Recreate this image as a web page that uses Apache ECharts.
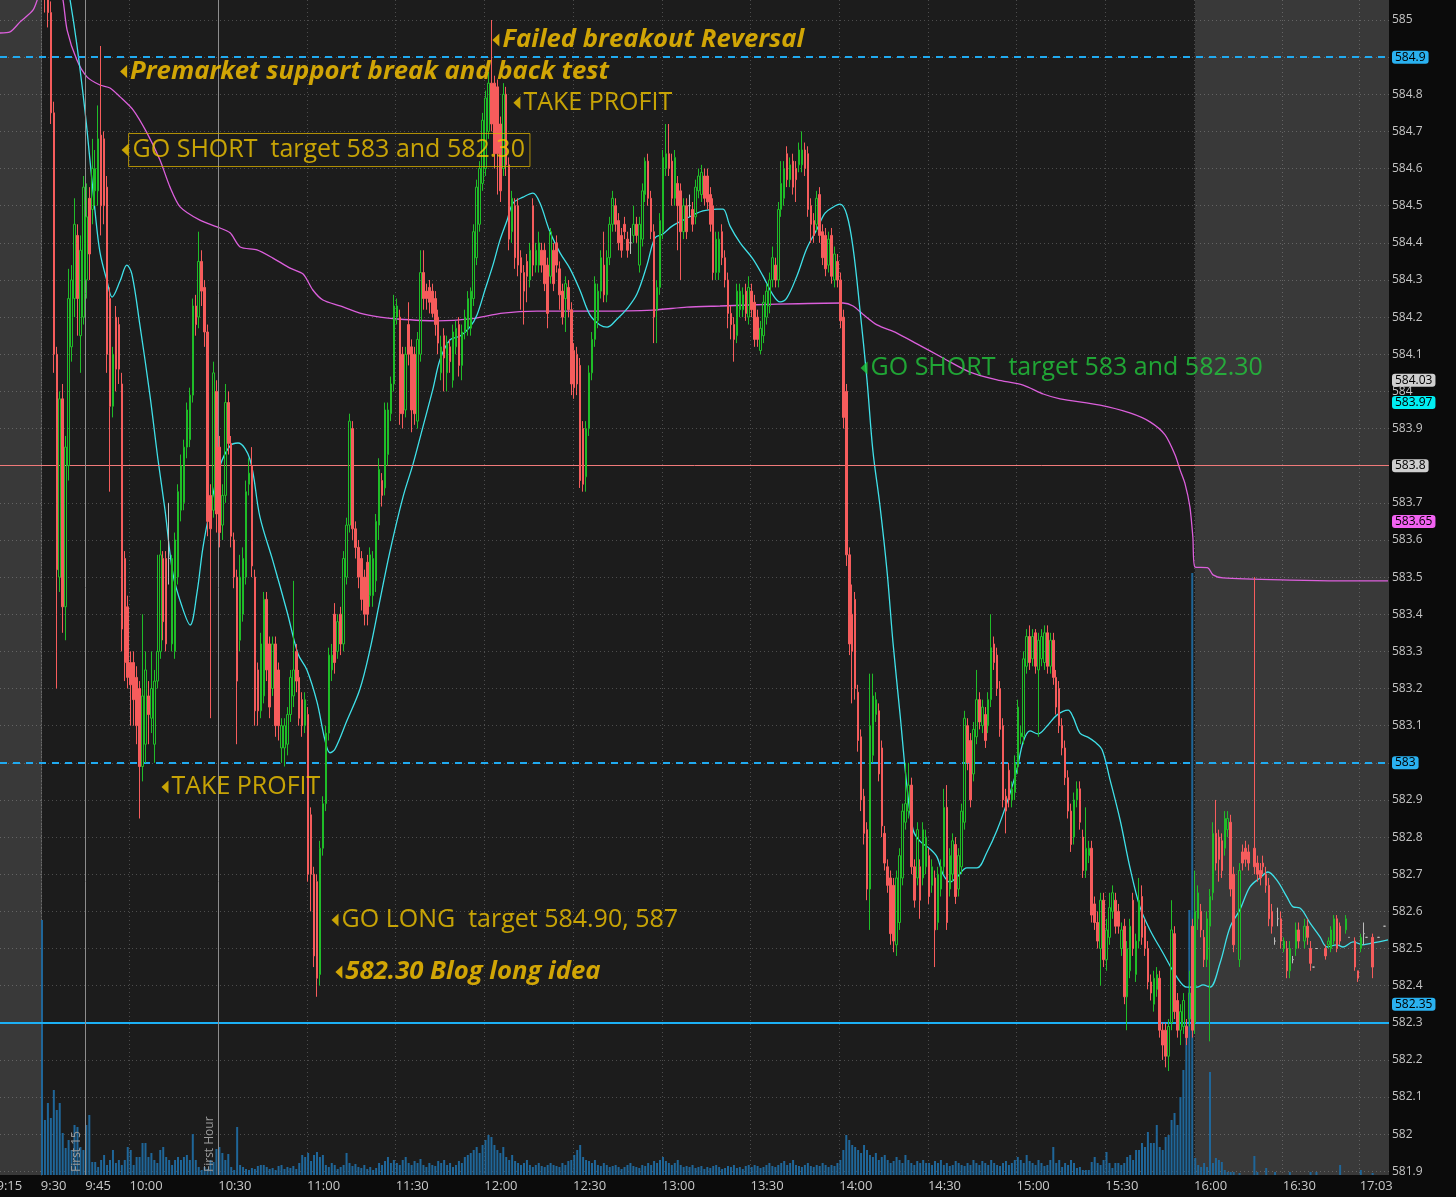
<!DOCTYPE html>
<html><head><meta charset="utf-8">
<script src="https://cdn.jsdelivr.net/npm/echarts@6/dist/echarts.min.js"></script>
<style>html,body{margin:0;padding:0;background:#0b0b0b;}#chart{width:1456px;height:1197px;}</style>
</head><body><div id="chart"></div>
<script>
// ---------- axis ticks ----------
const tickMinutes = [-15, 0, 15, 30, 60, 90, 120, 150, 180, 210, 240, 270, 300, 330, 360, 390, 420, 446];
const tickLabels = ['9:15','9:30','9:45','10:00','10:30','11:00','11:30','12:00','12:30','13:00','13:30','14:00','14:30','15:00','15:30','16:00','16:30','17:03'];
const priceTicks = [581.9,582.0,582.1,582.2,582.3,582.4,582.5,582.6,582.7,582.8,582.9,583.0,583.1,583.2,583.3,583.4,583.5,583.6,583.7,583.8,583.9,584.0,584.1,584.2,584.3,584.4,584.5,584.6,584.7,584.8,584.9,585.0];

// ---------- 1-minute candles, regular session [open, close, low, high] ----------
const c0930 = [[585.35,585.15,585.10,585.40],[585.15,585.06,585.02,585.20],[585.06,585.02,584.98,585.10],[585.02,584.75,584.72,585.05],[584.75,584.10,584.05,584.78],[584.10,583.52,583.20,584.12],[583.50,583.98,583.46,584.00],[583.98,583.42,583.35,584.02],[583.42,583.85,583.33,583.88],[583.80,584.25,583.76,584.33],[584.12,584.30,584.08,584.34],[584.25,584.45,584.20,584.52],[584.42,584.25,584.15,584.45],[584.15,584.38,584.05,584.42],[584.20,584.55,584.18,584.58],[584.30,584.47,584.25,584.56],[584.52,584.37,584.30,584.55],[584.49,584.60,584.45,584.68],[584.54,584.60,584.50,584.65],[584.54,584.68,584.50,584.77],[584.69,584.50,584.42,584.93],[584.68,584.50,584.45,584.70],[584.55,584.10,584.05,584.58],[584.25,583.96,583.73,584.28],[583.96,584.10,583.93,584.12],[584.20,584.06,584.00,584.23],[584.18,584.06,584.02,584.20],[584.02,583.36,583.30,584.05],[583.55,583.27,583.22,583.57],[583.42,583.23,583.20,583.45]];
const c1000 = [[583.27,583.21,583.10,583.30],[583.27,583.17,583.10,583.30],[583.23,583.10,583.05,583.26],[583.20,582.99,582.85,583.22],[582.99,583.18,582.95,583.40],[583.05,583.25,583.00,583.30],[583.18,583.13,583.05,583.22],[583.12,583.20,583.08,583.30],[583.05,583.22,583.00,583.25],[583.22,583.30,583.20,583.56],[583.30,583.56,583.28,583.60],[583.55,583.38,583.33,583.57],[583.55,583.32,583.30,583.57],[583.55,583.55,583.48,583.70],[583.32,583.55,583.30,583.56],[583.30,583.60,583.28,583.62],[583.50,583.73,583.48,583.75],[583.68,583.80,583.65,583.83],[583.70,583.85,583.68,583.87],[583.85,583.95,583.82,583.97],[583.87,583.99,583.85,584.01],[583.99,584.23,583.97,584.25],[584.23,584.18,584.15,584.26],[584.20,584.35,584.17,584.43],[584.35,584.27,584.23,584.38],[584.28,584.16,584.12,584.30],[584.16,583.65,583.61,584.18],[583.72,583.63,583.12,583.75],[583.68,584.05,583.66,584.08],[584.00,583.67,583.62,584.03]];
const c1030 = [[583.85,583.62,583.58,583.88],[583.64,583.72,583.60,583.75],[583.72,583.97,583.70,584.02],[583.97,583.86,583.83,584.00],[583.86,583.61,583.58,583.88],[583.60,583.50,583.47,583.62],[583.50,583.22,583.05,583.52],[583.33,583.50,583.30,583.56],[583.40,583.55,583.38,583.58],[583.50,583.73,583.48,583.76],[583.75,583.78,583.72,583.82],[583.80,583.53,583.50,583.85],[583.50,583.14,583.10,583.52],[583.25,583.14,583.10,583.27],[583.14,583.32,583.12,583.35],[583.18,583.44,583.16,583.46],[583.44,583.25,583.22,583.46],[583.32,583.15,583.12,583.34],[583.20,583.32,583.18,583.34],[583.32,583.10,583.07,583.34],[583.25,583.10,583.06,583.27],[583.04,583.10,583.00,583.12],[583.04,583.10,582.99,583.12],[583.05,583.13,583.02,583.15],[583.13,583.23,583.11,583.25],[583.18,583.25,583.15,583.49],[583.30,583.22,583.19,583.32],[583.23,583.12,583.10,583.25],[583.17,583.10,583.07,583.19],[583.10,583.17,583.08,583.19]];
const c1100 = [[583.13,582.70,582.68,583.15],[582.86,582.70,582.60,582.88],[582.70,582.48,582.45,582.72],[582.68,582.42,582.37,582.70],[582.43,582.77,582.40,582.79],[582.77,582.89,582.75,582.91],[582.89,583.08,582.87,583.10],[583.08,583.29,583.06,583.31],[583.25,583.29,583.22,583.32],[583.40,583.27,583.24,583.43],[583.30,583.38,583.28,583.40],[583.40,583.32,583.29,583.42],[583.32,583.55,583.30,583.57],[583.50,583.64,583.48,583.66],[583.64,583.92,583.62,583.94],[583.90,583.63,583.60,583.92],[583.63,583.58,583.55,583.65],[583.58,583.50,583.47,583.60],[583.55,583.44,583.41,583.57],[583.50,583.40,583.37,583.52],[583.54,583.40,583.37,583.56],[583.45,583.56,583.42,583.58],[583.45,583.55,583.42,583.57],[583.49,583.65,583.46,583.67],[583.64,583.79,583.60,583.82],[583.76,583.72,583.69,583.78],[583.74,583.95,583.72,583.97],[583.83,583.95,583.80,583.97],[583.94,584.02,583.92,584.04],[584.02,584.23,584.00,584.26]];
const c1130 = [[584.20,584.23,584.18,584.25],[584.20,583.94,583.91,584.22],[584.10,583.94,583.90,584.12],[583.95,584.10,583.93,584.12],[584.18,584.10,584.07,584.24],[584.12,583.95,583.89,584.14],[584.10,583.94,583.91,584.12],[583.92,584.14,583.90,584.16],[584.10,584.32,584.08,584.38],[584.32,584.25,584.22,584.38],[584.27,584.25,584.22,584.29],[584.28,584.24,584.21,584.30],[584.27,584.21,584.20,584.29],[584.25,584.18,584.15,584.27],[584.20,584.13,584.10,584.22],[584.05,584.12,584.03,584.15],[584.15,584.09,584.00,584.17],[584.05,584.13,584.00,584.15],[584.12,584.08,584.05,584.14],[584.03,584.16,584.01,584.18],[584.12,584.17,584.10,584.19],[584.18,584.07,584.04,584.20],[584.07,584.16,584.03,584.18],[584.16,584.20,584.14,584.22],[584.17,584.25,584.15,584.27],[584.17,584.27,584.15,584.28],[584.25,584.43,584.23,584.45],[584.36,584.55,584.34,584.57],[584.45,584.60,584.43,584.62],[584.56,584.73,584.54,584.75]];
const c1200 = [[584.60,584.79,584.58,584.81],[584.70,584.83,584.68,584.86],[584.83,584.72,584.70,585.00],[584.83,584.64,584.60,584.85],[584.82,584.64,584.53,584.84],[584.72,584.54,584.51,584.74],[584.60,584.80,584.58,584.83],[584.80,584.61,584.58,584.82],[584.61,584.41,584.38,584.63],[584.43,584.52,584.40,584.54],[584.50,584.36,584.33,584.52],[584.50,584.34,584.31,584.52],[584.36,584.32,584.22,584.38],[584.32,584.27,584.18,584.34],[584.35,584.31,584.24,584.37],[584.30,584.38,584.28,584.40],[584.50,584.34,584.31,584.52],[584.34,584.38,584.32,584.40],[584.34,584.40,584.32,584.43],[584.38,584.34,584.32,584.40],[584.38,584.29,584.27,584.40],[584.34,584.21,584.17,584.36],[584.31,584.43,584.29,584.44],[584.38,584.29,584.27,584.40],[584.40,584.34,584.32,584.42],[584.33,584.26,584.22,584.35],[584.27,584.20,584.18,584.29],[584.25,584.29,584.16,584.31],[584.28,584.22,584.20,584.30],[584.22,584.02,583.99,584.24]];
const c1230 = [[584.11,584.01,583.98,584.13],[584.10,584.02,583.99,584.12],[584.07,583.76,583.74,584.09],[583.90,583.75,583.73,583.92],[583.77,583.90,583.73,583.92],[583.90,584.05,583.88,584.07],[584.05,584.14,584.03,584.16],[584.14,584.29,584.12,584.31],[584.19,584.27,584.17,584.29],[584.27,584.36,584.25,584.38],[584.34,584.26,584.24,584.43],[584.26,584.36,584.24,584.38],[584.36,584.45,584.34,584.47],[584.45,584.52,584.43,584.54],[584.50,584.45,584.43,584.52],[584.46,584.40,584.38,584.48],[584.42,584.38,584.36,584.44],[584.45,584.43,584.41,584.47],[584.41,584.38,584.36,584.43],[584.40,584.40,584.37,584.44],[584.42,584.45,584.40,584.50],[584.45,584.42,584.40,584.47],[584.34,584.45,584.32,584.47],[584.41,584.54,584.39,584.56],[584.53,584.62,584.51,584.63],[584.62,584.52,584.50,584.64],[584.52,584.43,584.41,584.54],[584.43,584.20,584.13,584.45],[584.22,584.28,584.13,584.30],[584.28,584.46,584.26,584.48]];
const c1300 = [[584.43,584.63,584.41,584.65],[584.60,584.64,584.58,584.72],[584.64,584.60,584.58,584.72],[584.62,584.52,584.50,584.64],[584.52,584.63,584.50,584.65],[584.56,584.50,584.38,584.58],[584.54,584.43,584.30,584.56],[584.43,584.50,584.41,584.52],[584.50,584.43,584.41,584.52],[584.50,584.50,584.47,584.53],[584.49,584.45,584.43,584.51],[584.47,584.55,584.45,584.57],[584.54,584.58,584.52,584.60],[584.53,584.59,584.51,584.61],[584.58,584.52,584.50,584.60],[584.58,584.51,584.49,584.60],[584.53,584.45,584.43,584.55],[584.50,584.32,584.30,584.52],[584.32,584.41,584.30,584.43],[584.32,584.41,584.30,584.43],[584.43,584.36,584.34,584.45],[584.36,584.30,584.28,584.38],[584.30,584.21,584.17,584.32],[584.21,584.18,584.14,584.23],[584.18,584.14,584.08,584.20],[584.15,584.27,584.13,584.29],[584.22,584.27,584.20,584.29],[584.22,584.26,584.20,584.28],[584.27,584.21,584.19,584.29],[584.20,584.28,584.18,584.31]];
const c1330 = [[584.27,584.22,584.20,584.29],[584.24,584.14,584.12,584.26],[584.20,584.14,584.12,584.22],[584.11,584.17,584.10,584.19],[584.15,584.24,584.13,584.26],[584.20,584.27,584.18,584.29],[584.23,584.30,584.21,584.32],[584.30,584.36,584.28,584.39],[584.34,584.30,584.28,584.36],[584.30,584.49,584.28,584.51],[584.49,584.56,584.47,584.62],[584.52,584.60,584.50,584.62],[584.64,584.57,584.55,584.66],[584.57,584.61,584.55,584.63],[584.62,584.55,584.53,584.64],[584.60,584.57,584.51,584.62],[584.61,584.65,584.59,584.67],[584.61,584.65,584.59,584.70],[584.65,584.60,584.58,584.67],[584.64,584.49,584.47,584.66],[584.50,584.45,584.40,584.52],[584.46,584.42,584.40,584.48],[584.45,584.52,584.43,584.54],[584.53,584.42,584.40,584.55],[584.43,584.36,584.34,584.45],[584.42,584.33,584.31,584.44],[584.34,584.41,584.32,584.43],[584.42,584.31,584.29,584.44],[584.30,584.37,584.28,584.39],[584.35,584.30,584.28,584.37]];
const c1400 = [[584.30,584.19,584.17,584.32],[584.20,583.93,583.90,584.22],[584.00,583.56,583.53,584.02],[583.56,583.32,583.29,583.58],[583.40,583.30,583.16,583.48],[583.44,583.20,583.17,583.46],[583.19,583.06,583.03,583.21],[583.07,582.90,582.87,583.09],[582.91,582.81,582.78,582.93],[582.82,582.66,582.63,582.84],[582.66,583.10,582.55,583.24],[583.02,583.18,583.00,583.24],[583.13,583.17,583.11,583.19],[583.14,582.97,582.95,583.16],[583.04,582.83,582.80,583.06],[582.81,582.73,582.71,582.83],[582.72,582.67,582.65,582.74],[582.69,582.54,582.51,582.71],[582.67,582.52,582.49,582.69],[582.51,582.69,582.48,582.71],[582.57,582.75,582.55,582.77],[582.69,582.87,582.67,582.89],[582.84,582.89,582.82,583.00],[582.87,582.94,582.85,583.00],[582.94,582.72,582.70,582.96],[582.72,582.63,582.61,582.74],[582.69,582.82,582.67,582.84],[582.72,582.63,582.58,582.74],[582.69,582.82,582.67,582.84],[582.72,582.80,582.70,582.82]];
const c1430 = [[582.75,582.64,582.62,582.77],[582.67,582.72,582.65,582.74],[582.69,582.55,582.45,582.71],[582.57,582.70,582.55,582.72],[582.66,582.72,582.64,582.74],[582.72,582.88,582.70,582.93],[582.88,582.57,582.55,582.94],[582.66,582.75,582.64,582.77],[582.70,582.79,582.68,582.81],[582.78,582.64,582.62,582.80],[582.66,582.75,582.64,582.77],[582.72,582.87,582.70,582.89],[582.84,583.12,582.82,583.14],[583.10,583.00,582.98,583.12],[583.06,582.90,582.88,583.08],[582.97,583.09,582.95,583.11],[583.07,583.17,583.05,583.25],[583.17,583.11,583.09,583.19],[583.10,583.15,583.08,583.17],[583.13,583.06,583.04,583.15],[583.10,583.17,583.08,583.19],[583.17,583.31,583.15,583.40],[583.32,583.27,583.25,583.34],[583.29,583.20,583.18,583.31],[583.20,583.09,583.07,583.22],[583.10,582.90,582.88,583.12],[582.91,582.87,582.81,582.93],[582.98,582.90,582.88,583.00],[582.90,582.93,582.88,582.95],[582.92,583.00,582.90,583.02]];
const c1500 = [[582.99,583.15,582.97,583.17],[583.07,583.08,583.05,583.10],[583.07,583.28,583.05,583.30],[583.26,583.34,583.24,583.36],[583.34,583.27,583.25,583.37],[583.28,583.34,583.26,583.36],[583.35,583.26,583.24,583.36],[583.25,583.33,583.07,583.35],[583.28,583.34,583.26,583.36],[583.27,583.35,583.25,583.37],[583.35,583.26,583.24,583.37],[583.26,583.33,583.24,583.35],[583.33,583.23,583.21,583.35],[583.23,583.15,583.13,583.25],[583.20,583.10,583.08,583.22],[583.10,583.04,583.02,583.12],[583.04,582.96,582.94,583.06],[582.96,582.87,582.85,582.98],[582.87,582.78,582.76,582.89],[582.80,582.90,582.78,582.92],[582.90,582.93,582.88,582.95],[582.93,582.84,582.82,582.95],[582.80,582.71,582.69,582.82],[582.71,582.77,582.69,582.88],[582.75,582.77,582.73,582.79],[582.77,582.59,582.57,582.79],[582.62,582.57,582.55,582.64],[582.57,582.52,582.50,582.60],[582.50,582.63,582.40,582.65],[582.63,582.47,582.45,582.65]];
const c1530 = [[582.47,582.55,582.44,582.58],[582.53,582.61,582.51,582.65],[582.60,582.65,582.58,582.67],[582.63,582.56,582.54,582.65],[582.60,582.56,582.54,582.62],[582.50,582.55,582.48,582.57],[582.56,582.37,582.35,582.58],[582.37,582.50,582.28,582.52],[582.44,582.56,582.42,582.58],[582.63,582.50,582.48,582.65],[582.43,582.52,582.41,582.54],[582.52,582.63,582.50,582.69],[582.64,582.53,582.51,582.67],[582.56,582.50,582.48,582.58],[582.50,582.41,582.39,582.52],[582.41,582.38,582.36,582.43],[582.35,582.42,582.33,582.44],[582.39,582.43,582.37,582.45],[582.42,582.28,582.26,582.44],[582.28,582.24,582.20,582.30],[582.28,582.21,582.18,582.30],[582.21,582.29,582.17,582.31],[582.30,582.55,582.28,582.63],[582.54,582.33,582.31,582.56],[582.36,582.28,582.26,582.38],[582.28,582.33,582.24,582.35],[582.29,582.36,582.27,582.38],[582.29,582.26,582.24,582.31],[582.31,582.38,582.29,582.44],[582.56,582.28,582.26,582.58]];

// after-hours candles [minutes after 16:00, open, close, low, high]
const afterHours = [[0,582.30,582.60,582.27,582.71],[1,582.58,582.65,582.55,582.67],[2,582.60,582.55,582.53,582.62],[3,582.53,582.47,582.45,582.55],[4,582.47,582.58,582.45,582.60],[5,582.56,582.64,582.25,582.66],[6,582.65,582.81,582.63,582.84],[7,582.81,582.73,582.71,582.90],[8,582.80,582.74,582.68,582.82],[9,582.79,582.71,582.69,582.81],[10,582.77,582.85,582.75,582.87],[11,582.82,582.85,582.80,582.87],[12,582.84,582.66,582.64,582.86],[13,582.70,582.51,582.49,582.72],[15,582.47,582.71,582.45,582.73],[16,582.76,582.73,582.71,582.78],[17,582.77,582.74,582.72,582.79],[18,582.76,582.73,582.71,582.78],[20,582.77,582.72,582.70,583.50],[21,582.73,582.70,582.68,582.75],[22,582.71,582.69,582.67,582.73],[23,582.73,582.72,582.70,582.75],[24,582.70,582.67,582.65,582.72],[25,582.67,582.58,582.56,582.69],[26,582.60,582.56,582.54,582.62],[27,582.52,582.52,582.51,582.53],[28,582.58,582.58,582.56,582.61],[29,582.58,582.52,582.50,582.60],[30,582.50,582.52,582.49,582.53],[31,582.50,582.44,582.42,582.52],[32,582.44,582.50,582.42,582.52],[33,582.47,582.47,582.46,582.48],[34,582.50,582.55,582.48,582.57],[35,582.55,582.52,582.50,582.57],[37,582.52,582.56,582.50,582.58],[38,582.56,582.53,582.51,582.58],[39,582.50,582.46,582.44,582.52],[40,582.45,582.45,582.45,582.45],[41,582.50,582.50,582.50,582.50],[44,582.50,582.48,582.47,582.51],[45,582.51,582.52,582.50,582.53],[46,582.50,582.55,582.49,582.56],[47,582.52,582.58,582.51,582.59],[48,582.58,582.50,582.49,582.59],[49,582.56,582.52,582.51,582.57],[51,582.55,582.58,582.54,582.59],[52,582.53,582.53,582.53,582.53],[54,582.52,582.45,582.44,582.53],[55,582.44,582.42,582.41,582.44],[56,582.50,582.53,582.49,582.54],[57,582.54,582.54,582.51,582.57],[58,582.53,582.53,582.53,582.53],[60,582.53,582.45,582.42,582.54],[62,582.53,582.53,582.53,582.53],[64,582.56,582.56,582.56,582.56]];

// ---------- volume (units of 10k shares), one value per minute ----------
const v0930 = [255,55,72,57,85,65,72,42,27,35,25,50,48,28,25,50,60,13,13,8,15,20,10,15,25,12,15,10,15,28];
const v1000 = [25,10,18,18,32,32,18,22,15,12,25,28,18,15,10,15,18,15,18,20,15,41,15,8,5,8,6,15,13,26];
const v1030 = [28,22,15,21,8,5,48,10,8,6,5,7,6,9,10,10,8,6,7,5,9,10,6,8,7,9,6,12,20,18];
const v1100 = [22,14,20,23,18,20,10,8,12,10,6,8,10,22,12,9,11,8,7,10,6,8,5,7,12,10,14,18,12,15];
const v1130 = [12,10,15,18,12,10,14,12,16,10,8,12,10,9,14,12,15,10,12,8,10,14,12,18,20,22,25,28,22,30];
const v1200 = [35,40,38,30,25,22,28,18,15,20,14,12,10,12,15,10,8,10,12,9,8,10,12,10,9,8,12,10,14,15];
const v1230 = [20,25,30,18,15,14,12,15,10,9,12,10,8,9,10,8,6,8,10,12,9,8,7,10,9,12,10,14,12,15];
const v1300 = [18,14,12,10,12,15,10,8,9,8,10,7,8,9,6,8,7,9,10,8,6,7,9,8,10,7,8,6,9,10];
const v1330 = [8,10,9,7,8,10,12,9,8,10,12,14,10,12,15,10,9,8,10,12,9,8,10,9,12,10,8,10,9,12];
const v1400 = [15,25,40,35,30,28,25,22,30,25,20,18,22,15,18,20,15,12,14,18,15,12,20,15,12,10,14,12,15,12];
const v1430 = [12,10,14,12,15,10,12,9,10,14,12,10,9,12,10,15,12,10,14,12,10,15,12,10,9,12,14,10,12,15];
const v1500 = [18,15,12,20,14,12,10,15,12,9,10,15,28,12,15,8,12,10,15,12,7,8,5,5,5,13,18,12,10,15];
const v1530 = [23,12,7,12,12,10,12,18,20,15,25,25,32,28,43,32,32,50,28,25,38,40,55,62,50,78,105,150,265,602];
const ahVolume = [[0,17],[1,10],[2,8],[3,12],[4,8],[5,103],[6,12],[7,17],[8,15],[9,13],[10,5],[11,3],[12,3],[13,3],[15,2],[20,19],[21,3],[24,7],[27,3],[32,3],[39,3],[41,3],[49,10],[56,5],[60,2]];

// ---------- studies [minutes after 9:30, price] ----------
const ema = [[8.1,585.108],[9.5,585.054],[11.8,584.933],[14.5,584.758],[16.2,584.625],[17.9,584.488],[19.6,584.375],[22.0,584.297],[23.7,584.254],[26.4,584.297],[28.7,584.340],[30.4,584.316],[33.1,584.179],[36.5,583.990],[39.2,583.818],[41.6,583.681],[44.3,583.508],[47.3,583.422],[50.1,583.371],[52.4,583.457],[54.4,583.578],[56.8,583.681],[60.2,583.799],[63.6,583.853],[66.3,583.861],[70.3,583.818],[73.7,583.662],[78.1,583.543],[82.9,583.406],[86.6,583.293],[89.6,583.250],[93.0,583.164],[95.7,583.061],[97.4,583.027],[99.1,583.037],[103.1,583.113],[107.5,583.198],[110.9,583.304],[114.3,583.438],[117.7,583.570],[122.1,583.716],[125.5,583.805],[128.8,583.904],[132.2,584.006],[134.6,584.085],[138.0,584.139],[141.4,584.149],[144.7,584.173],[147.1,584.206],[149.8,584.273],[152.5,584.340],[154.9,584.408],[157.3,584.461],[159.3,584.507],[162.7,584.523],[166.0,584.534],[168.4,584.507],[171.8,584.429],[175.2,584.373],[178.6,584.330],[181.9,584.273],[185.3,584.206],[188.7,584.179],[191.1,584.173],[194.5,584.195],[197.8,584.222],[201.2,584.262],[204.6,584.340],[207.3,584.413],[210.0,584.424],[213.1,584.445],[216.8,584.461],[220.2,584.475],[223.5,584.486],[228.3,584.491],[230.3,584.491],[232.7,584.445],[236.1,584.400],[240.4,584.357],[243.8,584.311],[247.2,584.260],[249.6,584.241],[251.9,584.252],[255.3,584.311],[258.7,584.386],[262.1,584.437],[264.8,584.480],[267.5,584.496],[269.9,584.504],[272.2,584.475],[274.3,584.386],[276.6,584.222],[279.0,584.031],[281.0,583.840],[283.4,583.691],[285.8,583.514],[287.8,583.323],[290.2,583.129],[292.5,582.937],[294.6,582.819],[296.9,582.789],[300.3,582.768],[302.7,582.746],[304.7,582.700],[307.1,582.679],[309.4,582.692],[312.8,582.717],[316.2,582.717],[319.6,582.760],[323.0,582.819],[326.3,582.892],[329.7,582.981],[331.8,583.056],[334.1,583.086],[336.8,583.078],[339.9,583.099],[343.3,583.129],[347.0,583.142],[348.7,583.123],[351.0,583.080],[353.7,583.069],[356.1,583.056],[358.5,583.035],[361.2,582.954],[364.6,582.846],[367.9,582.719],[371.3,582.612],[374.7,582.550],[379.1,582.488],[383.8,582.423],[387.2,582.396],[390.6,582.396],[392.6,582.402],[395.0,582.396],[398.4,582.461],[401.8,582.558],[405.1,582.604],[408.5,582.666],[411.9,582.690],[414.6,582.706],[417.6,582.684],[421.0,582.639],[423.1,582.612],[425.4,582.609],[428.8,582.569],[432.2,582.531],[434.6,582.504],[437.9,582.510],[440.0,582.504],[443.4,582.518],[446.7,582.510],[450.1,582.515],[455.2,582.523]];
const vwap = [[-14.9,584.965],[-10.8,584.968],[-7.4,584.995],[-3.0,585.027],[-0.7,585.075],[2.7,585.135],[6.1,585.075],[7.1,585.054],[8.5,584.973],[11.8,584.892],[15.2,584.847],[19.6,584.825],[23.0,584.817],[26.4,584.793],[30.8,584.758],[35.5,584.696],[39.9,584.623],[43.3,584.550],[46.7,584.497],[53.4,584.461],[59.2,584.443],[63.6,584.427],[67.0,584.389],[72.7,584.381],[78.1,584.359],[83.9,584.332],[88.3,584.316],[91.6,584.273],[95.0,584.246],[100.8,584.230],[107.5,584.211],[114.3,584.200],[120.1,584.195],[133.6,584.190],[144.7,584.195],[155.9,584.211],[167.4,584.216],[189.7,584.216],[206.6,584.219],[218.1,584.227],[229.3,584.230],[248.6,584.235],[270.9,584.238],[274.3,584.230],[277.6,584.208],[282.4,584.179],[289.1,584.157],[295.9,584.128],[304.7,584.090],[313.8,584.052],[323.0,584.031],[331.8,584.017],[338.6,583.993],[344.3,583.980],[357.8,583.963],[367.9,583.942],[374.7,583.918],[379.8,583.883],[383.2,583.829],[384.9,583.788],[386.5,583.753],[388.2,583.689],[389.2,583.608],[389.9,583.527],[394.3,583.525],[396.0,583.506],[399.4,583.498],[422.0,583.492],[439.0,583.490],[455.2,583.490]];

// ---------- price levels and tags ----------
const levels = [
  { price: 584.9, kind: 'dashed', tag: '584.9', tagColor: 'blue' },
  { price: 584.03, kind: 'none', tag: '584.03', tagColor: 'grey' },
  { price: 583.97, kind: 'none', tag: '583.97', tagColor: 'cyan' },
  { price: 583.8, kind: 'pink', tag: '583.8', tagColor: 'grey' },
  { price: 583.65, kind: 'none', tag: '583.65', tagColor: 'magenta' },
  { price: 583.0, kind: 'dashed', tag: '583', tagColor: 'blue' },
  { price: 582.35, kind: 'none', tag: '582.35', tagColor: 'blue' },
  { price: 582.3, kind: 'solid', tag: null, tagColor: null }
];
const sessionMarks = [ { minute: 15, text: 'First 15' }, { minute: 60, text: 'First Hour' } ];

// ---------- annotations (arrow anchored at minute/price) ----------
const notes = [
  { t: 153.5, p: 584.946, text: 'Failed breakout Reversal', kind: 'strong' },
  { t: 27.6, p: 584.861, text: 'Premarket support break and back test', kind: 'strong' },
  { t: 160.6, p: 584.777, text: 'TAKE PROFIT', kind: 'plain' },
  { t: 28.1, p: 584.650, text: 'GO SHORT  target 583 and 582.30', kind: 'boxed' },
  { t: 41.6, p: 582.935, text: 'TAKE PROFIT', kind: 'plain' },
  { t: 99.1, p: 582.577, text: 'GO LONG  target 584.90, 587', kind: 'plain' },
  { t: 100.4, p: 582.437, text: '582.30 Blog long idea', kind: 'strong' },
  { t: 278.0, p: 584.063, text: 'GO SHORT  target 583 and 582.30', kind: 'green' }
];

// ================= build =================
const PX_PER_MIN = 2.957, PX_PER_DOLLAR = 371.4;
const BAR_CENTER = 0.4;              // a 1-minute bar is drawn a little right of its minute tick
const xMin = -13.8, xMax = xMin + 1389 / PX_PER_MIN;
const yMax = 585 + 20 / PX_PER_DOLLAR, yMin = yMax - 1175 / PX_PER_DOLLAR;
const premarketEnd = 0.35, afterHoursStart = 390.3;
const at = t => t + BAR_CENTER;

const regular = [].concat(c0930,c1000,c1030,c1100,c1130,c1200,c1230,c1300,c1330,c1400,c1430,c1500,c1530);
const candleData = regular.map((d, i) => [at(i), d[0], d[1], d[2], d[3]])
  .concat(afterHours.map(d => [at(390 + d[0]), d[1], d[2], d[3], d[4]]));
const regVol = [].concat(v0930,v1000,v1030,v1100,v1130,v1200,v1230,v1300,v1330,v1400,v1430,v1500,v1530);
const volData = regVol.map((v, i) => [at(i), v]).concat(ahVolume.map(d => [at(390 + d[0]), d[1]]));
const emaData = ema.map(d => [at(d[0]), d[1]]);
const vwapData = vwap.map(d => [at(d[0]), d[1]]);

const FONT = 'Open Sans';
const tagBg = { blue: '#2ab1f0', grey: '#cfcfcf', cyan: '#00eef2', magenta: '#f262f2' };
const lineStyles = {
  dashed: { color: '#20aaf0', width: 2, type: [7, 6] },
  solid: { color: '#1cb0f5', width: 2, type: 'solid' },
  pink: { color: '#f07a7a', width: 1, type: 'solid' },
  none: { color: 'rgba(0,0,0,0)', width: 0 }
};
const markLineData = levels.map(l => ({
  yAxis: l.price,
  lineStyle: lineStyles[l.kind],
  label: l.tag ? { show: true, position: 'end', distance: 3, formatter: l.tag, backgroundColor: tagBg[l.tagColor],
    color: '#000', padding: [1, 3, 0, 3], borderRadius: 3, fontSize: 12, fontFamily: FONT } : { show: false }
})).concat(sessionMarks.map(s => ({
  xAxis: s.minute,
  lineStyle: { color: '#8d8d8d', width: 1, type: 'solid' },
  label: { show: true, position: 'insideStartTop', distance: 3, formatter: s.text, color: '#9c9c9c', fontSize: 12, fontFamily: FONT }
})));

const noteStyles = {
  strong: { color: '#ffc800', fontSize: 25.7, fontWeight: 'bold', fontStyle: 'italic', distance: 3 },
  plain: { color: '#f2c600', fontSize: 25, fontWeight: 'normal', fontStyle: 'normal', distance: 3 },
  boxed: { color: '#f2c600', fontSize: 25, fontWeight: 'normal', fontStyle: 'normal', distance: 0,
           borderColor: '#d4ad00', borderWidth: 1, padding: [5, 5, 3, 4] },
  green: { color: '#22c83c', fontSize: 25, fontWeight: 'normal', fontStyle: 'normal', distance: 3 }
};
const noteData = notes.map(n => {
  const s = noteStyles[n.kind];
  return {
    value: [at(n.t), n.p],
    itemStyle: { color: s.color },
    label: Object.assign({ show: true, position: 'right', formatter: n.text, fontFamily: FONT }, s)
  };
});

const chart = echarts.init(document.getElementById('chart'), null, { renderer: 'canvas' });
chart.setOption({
  backgroundColor: '#0b0b0b',
  animation: false,
  textStyle: { fontFamily: FONT },
  grid: { left: 0, right: 67, top: 0, bottom: 22, show: true, backgroundColor: '#1c1c1c', borderWidth: 0 },
  xAxis: {
    type: 'value', min: xMin, max: xMax,
    axisLine: { show: false },
    axisTick: { show: false, customValues: tickMinutes.slice(1) },
    axisLabel: {
      customValues: tickMinutes.slice(1), align: 'left', margin: 5, color: '#c8c8c8', fontSize: 13, fontFamily: FONT,
      formatter: v => { const i = tickMinutes.findIndex(m => Math.abs(m - v) < 0.01); return i >= 0 ? tickLabels[i] : ''; }
    },
    splitLine: { show: true, lineStyle: { color: '#4d4d4d', width: 1, type: [1, 3] } }
  },
  yAxis: [{
    type: 'value', position: 'right', min: yMin, max: yMax,
    axisLine: { show: true, lineStyle: { color: '#5a5a5a', type: [1, 2] } },
    axisTick: { show: false, customValues: priceTicks },
    axisLabel: { customValues: priceTicks, margin: 3, color: '#c4c4c4', fontSize: 12, fontFamily: FONT,
      formatter: v => String(Math.round(v * 10) / 10) },
    splitLine: { show: true, lineStyle: { color: '#4d4d4d', width: 1, type: [1, 3] } }
  }, { type: 'value', min: 0, max: 1175, show: false }],
  series: [
    { type: 'line', name: 'sessions', data: [[0, 583]], symbol: 'none', lineStyle: { opacity: 0 }, z: 1, silent: true,
      markArea: { silent: true, itemStyle: { color: 'rgba(255,255,255,0.13)' },
        data: [[{ xAxis: xMin }, { xAxis: premarketEnd }], [{ xAxis: afterHoursStart }, { xAxis: xMax }]] } },
    { type: 'bar', name: 'volume', yAxisIndex: 1, data: volData, barWidth: 2, z: 2, silent: true,
      itemStyle: { color: '#1f6699' } },
    { type: 'line', name: 'levels', data: [[0, 583]], symbol: 'none', lineStyle: { opacity: 0 }, z: 3, silent: true, clip: false,
      markLine: { silent: true, symbol: ['none', 'none'], animation: false, data: markLineData } },
    { type: 'line', name: 'VWAP', data: vwapData, symbol: 'none', smooth: 0.25, z: 4, silent: true,
      lineStyle: { color: '#db5fdb', width: 1.3 } },
    { type: 'line', name: 'EMA', data: emaData, symbol: 'none', smooth: 0.35, z: 4, silent: true,
      lineStyle: { color: '#3fe0e8', width: 1.3 } },
    { type: 'candlestick', name: 'SPY', data: candleData, encode: { x: 0, y: [1, 2, 3, 4] }, barWidth: 2, z: 5, silent: true,
      itemStyle: { color: 'rgba(0,0,0,0)', color0: '#f65c5c', borderColor: '#1fbd28', borderColor0: '#f65c5c',
        borderColorDoji: '#bdbdbd', borderWidth: 1 } },
    { type: 'scatter', name: 'notes', data: noteData, z: 10, silent: true, clip: false,
      symbol: 'path://M10,0 L10,18 L0,9 Z', symbolSize: [7, 13] }
  ]
});
// first tick label (9:15) sits just left of the visible plot and is partly cut off
const firstX = chart.convertToPixel({ xAxisIndex: 0 }, tickMinutes[0]);
chart.setOption({ graphic: [{ type: 'text', x: firstX, y: 1180, silent: true,
  style: { text: tickLabels[0], fill: '#c8c8c8', font: '13px "Open Sans"', textVerticalAlign: 'top' } }] });
</script></body></html>
